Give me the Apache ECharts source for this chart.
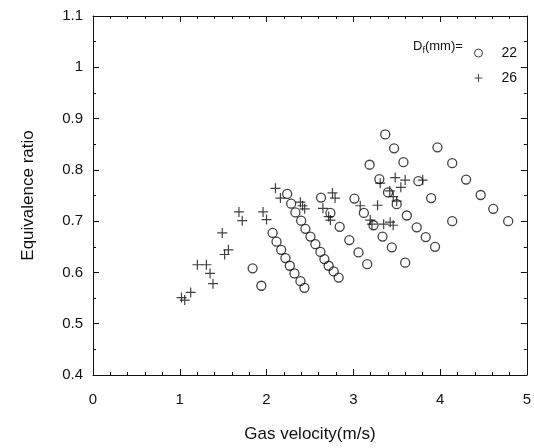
<!DOCTYPE html>
<html>
<head>
<meta charset="utf-8">
<script src="https://cdn.jsdelivr.net/npm/echarts@6/dist/echarts.min.js"></script>
<style>
    html, body { margin: 0; padding: 0; background: #fff; }
    #main { width: 534px; height: 448px; }
</style>
</head>
<body>
<div id="main"></div>
<script>
// D_f = 22 mm (open circles)
const d22 = [
    [1.84, 0.608], [1.94, 0.574],
    [2.07, 0.677], [2.115, 0.660], [2.169, 0.644], [2.218, 0.628], [2.268, 0.613], [2.322, 0.598], [2.391, 0.583], [2.437, 0.570],
    [2.238, 0.753], [2.284, 0.734], [2.333, 0.717], [2.399, 0.701], [2.448, 0.685], [2.506, 0.670], [2.563, 0.655], [2.621, 0.640],
    [2.667, 0.626], [2.716, 0.613], [2.774, 0.602], [2.831, 0.590],
    [2.628, 0.746], [2.736, 0.716], [2.843, 0.689], [2.954, 0.663], [3.06, 0.639], [3.16, 0.616],
    [3.013, 0.744], [3.122, 0.716], [3.233, 0.692], [3.337, 0.670], [3.444, 0.649], [3.598, 0.619],
    [3.188, 0.810], [3.30, 0.782], [3.40, 0.756], [3.50, 0.733], [3.617, 0.711], [3.731, 0.688], [3.835, 0.669], [3.942, 0.650],
    [3.368, 0.869], [3.47, 0.842], [3.578, 0.815], [3.75, 0.778], [3.897, 0.745], [4.14, 0.700],
    [3.97, 0.844], [4.14, 0.813], [4.30, 0.781], [4.468, 0.751], [4.613, 0.724], [4.785, 0.700]
];

// D_f = 26 mm (plus)
const d26 = [
    [1.02, 0.551], [1.057, 0.546], [1.126, 0.561],
    [1.203, 0.615], [1.307, 0.615], [1.349, 0.598], [1.383, 0.578],
    [1.49, 0.677], [1.517, 0.635], [1.56, 0.644],
    [1.682, 0.718], [1.72, 0.701],
    [1.96, 0.718], [2.0, 0.703],
    [2.103, 0.764], [2.16, 0.745],
    [2.39, 0.737], [2.415, 0.730], [2.44, 0.724],
    [2.65, 0.725], [2.716, 0.709], [2.736, 0.702],
    [2.76, 0.755], [2.79, 0.745],
    [3.08, 0.730], [3.195, 0.702], [3.215, 0.694], [3.28, 0.731], [3.31, 0.774], [3.35, 0.694],
    [3.42, 0.759], [3.46, 0.748], [3.50, 0.739], [3.425, 0.698], [3.46, 0.692],
    [3.483, 0.785], [3.548, 0.766], [3.598, 0.780], [3.80, 0.780]
];

const seriesNames = ['22', '26'];

const chart = echarts.init(document.getElementById('main'));

const plusPath = 'path://M4.4,0h1.2v4.4h4.4v1.2h-4.4v4.4h-1.2v-4.4h-4.4v-1.2h4.4z';
const ink = '#111';
const font = 'Liberation Sans, Arial, sans-serif';

const tickCommon = {
    axisLine: { show: true, onZero: false, lineStyle: { color: ink, width: 1 } },
    axisTick: { show: true, inside: true, length: 6, lineStyle: { color: ink } },
    splitLine: { show: false },
    minorSplitLine: { show: false }
};
const xMinor = { minorTick: { show: true, splitNumber: 5, length: 3, lineStyle: { color: ink } } };
const yMinor = { minorTick: { show: true, splitNumber: 2, length: 3, lineStyle: { color: ink } } };

const option = {
    animation: false,
    backgroundColor: '#fff',
    grid: { left: 93, right: 1, top: 16, bottom: 67 },
    legend: {
        data: seriesNames,
        orient: 'vertical',
        left: 469,
        top: 41,
        itemWidth: 8,
        itemHeight: 8,
        itemGap: 11,
        itemStyle: { borderWidth: 1 },
        textStyle: { fontSize: 14, color: ink, fontFamily: font, padding: [0, 0, 0, 14] }
    },
    graphic: [{
        type: 'text',
        left: 413,
        top: 40,
        style: {
            text: '{n|D}{s|f}{n|(mm)=}',
            rich: {
                n: { fontSize: 13, fontFamily: font, fill: ink },
                s: { fontSize: 9, fontFamily: font, fill: ink, padding: [9, 0, 0, 0] }
            }
        }
    }],
    xAxis: [
        Object.assign({
            type: 'value', min: 0, max: 5, interval: 1, position: 'bottom',
            name: 'Gas velocity(m/s)', nameLocation: 'middle', nameGap: 51,
            nameTextStyle: { fontSize: 17, color: ink, fontFamily: font },
            axisLabel: { margin: 17, fontSize: 15, color: ink, fontFamily: font, showMaxLabel: true }
        }, tickCommon, xMinor),
        Object.assign({
            type: 'value', min: 0, max: 5, interval: 1, position: 'top',
            axisLabel: { show: false }
        }, tickCommon, xMinor)
    ],
    yAxis: [
        Object.assign({
            type: 'value', min: 0.4, max: 1.1, interval: 0.1, position: 'left',
            name: 'Equivalence ratio', nameLocation: 'middle', nameGap: 56,
            nameTextStyle: { fontSize: 17, color: ink, fontFamily: font },
            axisLabel: { margin: 10, fontSize: 15, color: ink, fontFamily: font }
        }, tickCommon, yMinor),
        Object.assign({
            type: 'value', min: 0.4, max: 1.1, interval: 0.1, position: 'right',
            axisLabel: { show: false }
        }, tickCommon, yMinor)
    ],
    series: [
        {
            name: seriesNames[0],
            type: 'scatter',
            data: d22,
            symbol: 'circle',
            symbolSize: 9,
            itemStyle: { color: 'rgba(0,0,0,0)', borderColor: ink, borderWidth: 1.3 }
        },
        {
            name: seriesNames[1],
            type: 'scatter',
            data: d26,
            symbol: plusPath,
            symbolSize: 10,
            itemStyle: { color: ink }
        }
    ]
};

chart.setOption(option);
</script>
</body>
</html>
